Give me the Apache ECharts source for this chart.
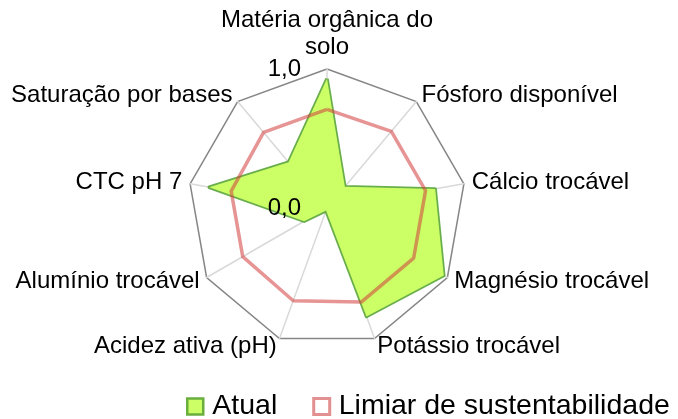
<!DOCTYPE html>
<html>
<head>
<meta charset="utf-8">
<script src="https://cdn.jsdelivr.net/npm/echarts@6/dist/echarts.min.js"></script>
<style>
html,body{margin:0;padding:0;background:#fff;}
#chart{width:678px;height:419px;}
</style>
</head>
<body>
<div id="chart"></div>
<script>
// Indicators listed clockwise starting from the top
const categories = [
  'Matéria orgânica do\nsolo',
  'Fósforo disponível',
  'Cálcio trocável',
  'Magnésio trocável',
  'Potássio trocável',
  'Acidez ativa (pH)',
  'Alumínio trocável',
  'CTC pH 7',
  'Saturação por bases'
];
const atual  = [0.93, 0.20, 0.79, 0.97, 0.83, 0.02, 0.19, 0.86, 0.43];
const limiar = [0.71, 0.72, 0.72, 0.72, 0.72, 0.71, 0.70, 0.70, 0.71];
const seriesNames = ['Atual', 'Limiar de sustentabilidade'];
const axisTicks = [0, 1];

// ECharts places radar indicators counter-clockwise; reorder to get clockwise layout
const order = [0].concat(categories.map((_, i) => i).slice(1).reverse());
const reorder = arr => order.map(i => arr[i]);

const FONT = '"Liberation Sans", Arial, sans-serif';
const chart = echarts.init(document.getElementById('chart'), null, {renderer: 'canvas'});
chart.setOption({
  animation: false,
  backgroundColor: '#ffffff',
  textStyle: {fontFamily: FONT},
  legend: {
    top: 392,
    left: 186,
    width: 600,
    padding: 0,
    itemWidth: 16,
    itemHeight: 16,
    itemGap: 35,
    icon: 'rect',
    textStyle: {fontSize: 28.5, color: '#000', fontFamily: FONT, padding: [0, 0, 0, 4]},
    data: [
      {name: seriesNames[0], itemStyle: {color: '#ccff66', borderColor: '#6aae3e', borderWidth: 2.5}},
      {name: seriesNames[1], itemStyle: {color: '#ffffff', borderColor: '#e39090', borderWidth: 3}}
    ]
  },
  radar: {
    center: [327, 208],
    radius: 139,
    startAngle: 90,
    shape: 'polygon',
    splitNumber: 1,
    indicator: reorder(categories).map(n => ({name: n, min: axisTicks[0], max: axisTicks[1]})),
    axisName: {color: '#000', fontSize: 24, fontFamily: FONT, lineHeight: 27},
    nameGap: 8,
    axisLine: {lineStyle: {color: '#d9d9d9', width: 1.5}},
    splitLine: {lineStyle: {color: '#868686', width: 1.5}},
    splitArea: {show: false},
    axisTick: {show: false},
    axisLabel: {show: false}
  },
  polar: {center: [327, 208], radius: 139},
  angleAxis: {show: false, startAngle: 90, min: 0, max: 360},
  radiusAxis: {
    min: axisTicks[0], max: axisTicks[1], interval: 1,
    z: 10,
    axisLine: {show: false},
    axisTick: {show: false},
    splitLine: {show: false},
    axisLabel: {
      show: true, fontSize: 24, color: '#000', fontFamily: FONT, margin: 26,
      formatter: v => v.toFixed(1).replace('.', ',')
    }
  },
  series: [
    {
      type: 'radar',
      symbol: 'none',
      z: 2,
      data: [
        {
          name: seriesNames[0],
          value: reorder(atual),
          lineStyle: {color: 'rgba(80,160,45,0.85)', width: 3.5},
          areaStyle: {color: '#ccff66', opacity: 1},
          itemStyle: {color: '#ccff66', borderColor: '#6aae3e'}
        }
      ]
    },
    {
      type: 'radar',
      symbol: 'none',
      z: 3,
      data: [
        {
          name: seriesNames[1],
          value: reorder(limiar),
          lineStyle: {color: 'rgba(210,60,60,0.55)', width: 3.5},
          itemStyle: {color: '#ffffff', borderColor: '#e39090'}
        }
      ]
    },
    {type: 'scatter', coordinateSystem: 'polar', data: [], silent: true}
  ]
});
</script>
</body>
</html>
